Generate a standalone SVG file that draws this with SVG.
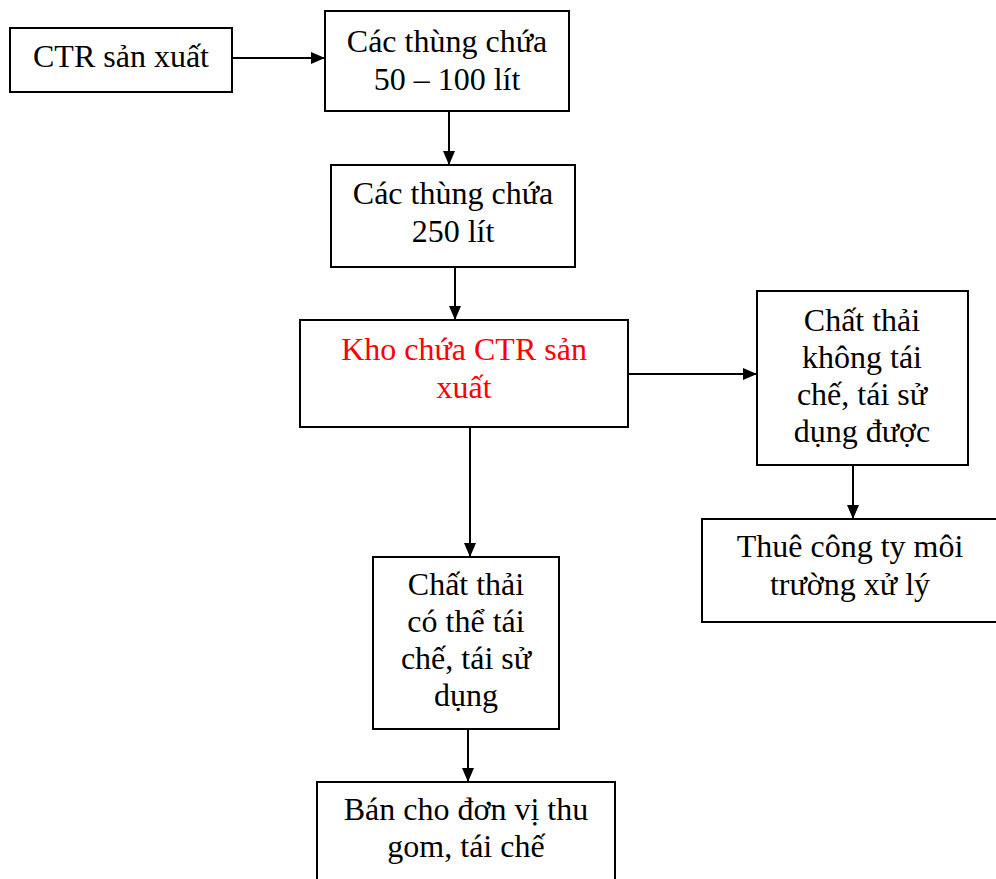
<svg xmlns="http://www.w3.org/2000/svg" width="996" height="879" viewBox="0 0 996 879">
<defs>
<marker id="ah" viewBox="0 0 14 12" refX="14" refY="6" markerWidth="14" markerHeight="12" markerUnits="userSpaceOnUse" orient="auto">
<path d="M0,0 L14,6 L0,12 Z" fill="#000"/>
</marker>
<style>
rect{fill:#fff;stroke:#000;stroke-width:2}
text{font-family:"Liberation Serif","Times New Roman",serif;font-size:32px;fill:#000;text-anchor:middle}
.red{fill:#FF0000}
#connectors line{stroke:#000;stroke-width:2;marker-end:url(#ah)}
</style>
</defs>
<rect x="0" y="0" width="996" height="879" style="fill:#fff;stroke:none"/>
<g id="connectors">
<line x1="232" y1="58" x2="325" y2="58"/>
<line x1="449" y1="111" x2="449" y2="165"/>
<line x1="455" y1="267" x2="455" y2="320"/>
<line x1="628" y1="374" x2="757" y2="374"/>
<line x1="853" y1="465" x2="853" y2="519"/>
<line x1="470" y1="427" x2="470" y2="557"/>
<line x1="468" y1="729" x2="468" y2="782"/>
</g>
<g id="n1">
<rect x="10" y="28" width="222" height="64"/>
<text x="121" y="67">CTR sản xuất</text>
</g>
<g id="n2">
<rect x="325" y="11" width="244" height="100"/>
<text x="447" y="52">Các thùng chứa</text>
<text x="447" y="90">50 – 100 lít</text>
</g>
<g id="n3">
<rect x="331" y="165" width="244" height="102"/>
<text x="453" y="204">Các thùng chứa</text>
<text x="453" y="242">250 lít</text>
</g>
<g id="n4">
<rect x="300" y="320" width="328" height="107"/>
<text class="red" x="464" y="360">Kho chứa CTR sản</text>
<text class="red" x="464" y="398">xuất</text>
</g>
<g id="n5">
<rect x="757" y="291" width="211" height="174"/>
<text x="862" y="331">Chất thải</text>
<text x="862" y="368">không tái</text>
<text x="862" y="405">chế, tái sử</text>
<text x="862" y="442">dụng được</text>
</g>
<g id="n6">
<rect x="702" y="519" width="296" height="103"/>
<text x="850" y="557">Thuê công ty môi</text>
<text x="850" y="595">trường xử lý</text>
</g>
<g id="n7">
<rect x="373" y="557" width="186" height="172"/>
<text x="466" y="595">Chất thải</text>
<text x="466" y="632">có thể tái</text>
<text x="466" y="669">chế, tái sử</text>
<text x="466" y="706">dụng</text>
</g>
<g id="n8">
<rect x="317" y="782" width="298" height="100"/>
<text x="466" y="820">Bán cho đơn vị thu</text>
<text x="466" y="857">gom, tái chế</text>
</g>
</svg>
